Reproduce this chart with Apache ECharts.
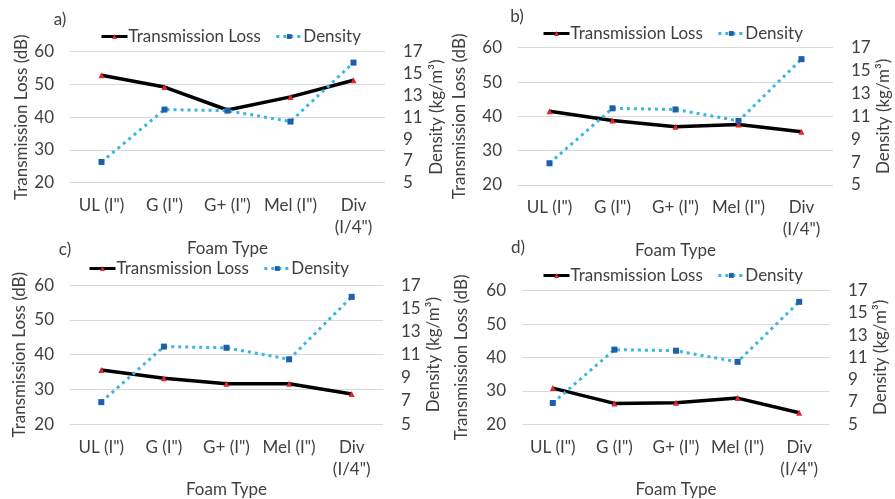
<!DOCTYPE html>
<html>
<head>
<meta charset="utf-8">
<script src="https://cdn.jsdelivr.net/npm/echarts@6/dist/echarts.min.js"></script>
<style>
  html, body { margin: 0; padding: 0; background: #fff; }
  #chart { width: 895px; height: 499px; }
</style>
</head>
<body>
<div id="chart"></div>
<script>
// Foam types along the horizontal axis
const categories = ['UL (I")', 'G (I")', 'G+ (I")', 'Mel (I")', 'Div\n(I/4")'];

// Transmission loss (dB) for each panel
const lossA = [52.8, 49.2, 42.2, 46.2, 51.3];
const lossB = [41.5, 38.8, 37.0, 37.6, 35.5];
const lossC = [35.6, 33.2, 31.6, 31.6, 28.7];
const lossD = [30.8, 26.2, 26.4, 27.8, 23.4];

// Foam density (kg/m3), same foams in every panel
const density = [6.9, 11.7, 11.6, 10.6, 16.0];

// Tick values
const lossTicks = [20, 30, 40, 50, 60];
const densityTicks = [5, 7, 9, 11, 13, 15, 17];

const panelLabels = ['a)', 'b)', 'c)', 'd)'];
const lossSets = [lossA, lossB, lossC, lossD];

const FONT = 'Lato';
const TEXT = '#404040';

const grids = [
  { left: 70, top: 51.7, width: 315, height: 131 },
  { left: 518, top: 47.7, width: 315, height: 137.3 },
  { left: 70, top: 285.3, width: 313, height: 139.7 },
  { left: 522, top: 290.7, width: 308, height: 135.3 }
];
const legendPos = [
  { left: 100, top: 28 },
  { left: 542, top: 25 },
  { left: 88, top: 260 },
  { left: 542, top: 267 }
];
const labelPos = [[60, 20], [517, 17], [65, 250], [518, 248]];
const leftGap = [40, 50, 42, 52];
const rightGap = [43, 42, 40, 38];
const xNameGap = [54, 52, 52, 51];

const xAxes = [], yAxes = [], series = [], legends = [], graphics = [];

grids.forEach((g, i) => {
  xAxes.push({
    type: 'category', gridIndex: i, data: categories,
    boundaryGap: true,
    name: 'Foam Type', nameLocation: 'middle', nameGap: xNameGap[i],
    nameTextStyle: { fontFamily: FONT, fontSize: 17, color: TEXT },
    axisLine: { show: false }, axisTick: { show: false },
    axisLabel: { interval: 0, margin: 12, fontFamily: FONT, fontSize: 17, color: TEXT, lineHeight: 22 }
  });
  yAxes.push({
    type: 'value', gridIndex: i, position: 'left',
    min: lossTicks[0], max: lossTicks[lossTicks.length - 1], interval: 10,
    name: 'Transmission Loss (dB)', nameLocation: 'middle', nameRotate: 90, nameGap: leftGap[i],
    nameTextStyle: { fontFamily: FONT, fontSize: 17, color: TEXT },
    axisLine: { show: false }, axisTick: { show: false },
    axisLabel: { margin: 16, fontFamily: FONT, fontSize: 17, color: TEXT },
    splitLine: { show: true, lineStyle: { color: '#d9d9d9', width: 1 } }
  });
  yAxes.push({
    type: 'value', gridIndex: i, position: 'right',
    min: densityTicks[0], max: densityTicks[densityTicks.length - 1],
    name: 'Density (kg/m³)', nameLocation: 'middle', nameRotate: 90, nameGap: rightGap[i],
    nameTextStyle: { fontFamily: FONT, fontSize: 17, color: TEXT },
    axisLine: { show: false }, axisTick: { show: false },
    axisLabel: { margin: 18, fontFamily: FONT, fontSize: 17, color: TEXT, customValues: densityTicks },
    splitLine: { show: false }
  });
  series.push({
    name: 'Transmission Loss', type: 'line',
    xAxisIndex: i, yAxisIndex: i * 2,
    data: lossSets[i],
    symbol: 'triangle', symbolSize: 6,
    itemStyle: { color: '#e3262b' },
    lineStyle: { color: '#000', width: 3.5 },
    z: 2
  });
  series.push({
    name: 'Density', type: 'line',
    xAxisIndex: i, yAxisIndex: i * 2 + 1,
    data: density,
    symbol: 'rect', symbolSize: 6,
    itemStyle: { color: '#1f5ea8' },
    lineStyle: { color: '#38b6e4', width: 3, type: [3, 4] },
    z: 3
  });
  legends.push({
    left: legendPos[i].left, top: legendPos[i].top, padding: 0,
    itemWidth: 26, itemHeight: 6, itemGap: 14,
    data: ['Transmission Loss', 'Density'],
    lineStyle: { width: 3 },
    textStyle: { fontFamily: FONT, fontSize: 17, color: TEXT, padding: [0, 0, 0, -4] }
  });
  graphics.push({
    type: 'text', x: labelPos[i][0], y: labelPos[i][1],
    style: { text: panelLabels[i], font: '17px ' + FONT, fill: TEXT, align: 'center', verticalAlign: 'middle' }
  });
});

const chart = echarts.init(document.getElementById('chart'), null, { renderer: 'canvas' });
chart.setOption({
  animation: false,
  backgroundColor: '#fff',
  grid: grids,
  xAxis: xAxes,
  yAxis: yAxes,
  legend: legends,
  series: series,
  graphic: graphics
});
</script>
</body>
</html>
